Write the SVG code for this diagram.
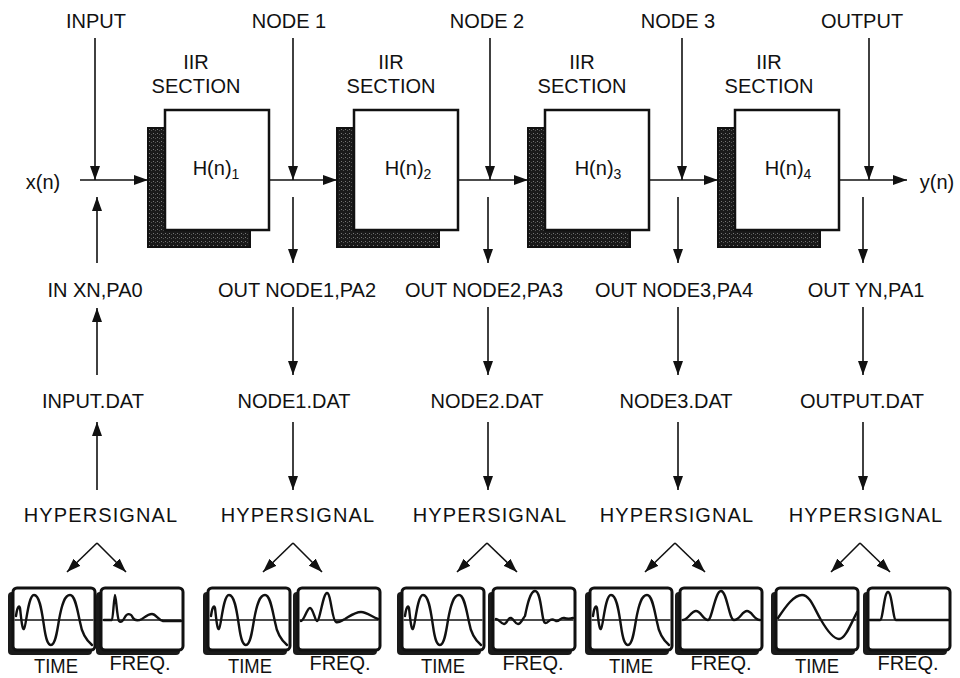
<svg xmlns="http://www.w3.org/2000/svg" width="960" height="678" viewBox="0 0 960 678">
<style>
text{font-family:"Liberation Sans",Arial,Helvetica,sans-serif;font-size:20px;fill:#111;text-anchor:middle}
.sub{font-size:14px}
.hs{letter-spacing:1.1px}
.ln{stroke:#111;stroke-width:1.6;fill:none}
.box{fill:#fff;stroke:#111;stroke-width:2.5}
.shd{fill:url(#stip);stroke:#111;stroke-width:2}
.wv{fill:none;stroke:#111;stroke-width:2.4;stroke-linejoin:round;stroke-linecap:round}
.ax{stroke:#111;stroke-width:1.4}
</style>
<defs>
<pattern id="stip" width="4" height="4" patternUnits="userSpaceOnUse">
<rect width="4" height="4" fill="#1a1a1a"/>
<rect x="1" y="1" width="1" height="1" fill="#777"/>
<rect x="3" y="2" width="1" height="1" fill="#555"/>
</pattern>
<marker id="ah" viewBox="0 0 14 10" refX="14" refY="5" markerWidth="14" markerHeight="10" markerUnits="userSpaceOnUse" orient="auto">
<path d="M0,0 L14,5 L0,10 Z" fill="#111"/>
</marker>
<g id="mon">
<rect x="-5" y="4" width="84" height="63" rx="4" fill="#1a1a1a"/>
<rect x="0" y="0" width="82" height="62" rx="4" fill="#fff" stroke="#111" stroke-width="3"/>
<line class="ax" x1="1.5" y1="32" x2="80.5" y2="32"/>
</g>
<path id="tw" class="wv" d="M3,28 C4,20 6,16 7,20 C8,28 9,42 11,41 C13,40 15,7 21,7 C27,7 29,25 31,38 C33,52 35,57 38,57 C42,57 44,45 46,32 C49,15 52,7 57,7 C62,7 64,20 67,34 C69,46 73,52 79,57"/>
</defs>

<g id="connectors">
<path class="ln" d="M80,180 H148" marker-end="url(#ah)"/>
<path class="ln" d="M269,180 H337" marker-end="url(#ah)"/>
<path class="ln" d="M458,180 H528" marker-end="url(#ah)"/>
<path class="ln" d="M649,180 H718" marker-end="url(#ah)"/>
<path class="ln" d="M839,180 H907" marker-end="url(#ah)"/>
<path class="ln" d="M95,38 V180" marker-end="url(#ah)"/>
<path class="ln" d="M293,38 V180" marker-end="url(#ah)"/>
<path class="ln" d="M490,38 V180" marker-end="url(#ah)"/>
<path class="ln" d="M682,38 V180" marker-end="url(#ah)"/>
<path class="ln" d="M869,38 V180" marker-end="url(#ah)"/>
<path class="ln" d="M97,263 V197" marker-end="url(#ah)"/>
<path class="ln" d="M97,375 V308" marker-end="url(#ah)"/>
<path class="ln" d="M97,490 V422" marker-end="url(#ah)"/>
<path class="ln" d="M293,197 V263" marker-end="url(#ah)"/>
<path class="ln" d="M293,307 V375" marker-end="url(#ah)"/>
<path class="ln" d="M293,422 V490" marker-end="url(#ah)"/>
<path class="ln" d="M488,197 V263" marker-end="url(#ah)"/>
<path class="ln" d="M488,307 V375" marker-end="url(#ah)"/>
<path class="ln" d="M488,422 V490" marker-end="url(#ah)"/>
<path class="ln" d="M678,197 V263" marker-end="url(#ah)"/>
<path class="ln" d="M678,307 V375" marker-end="url(#ah)"/>
<path class="ln" d="M678,422 V490" marker-end="url(#ah)"/>
<path class="ln" d="M863,197 V263" marker-end="url(#ah)"/>
<path class="ln" d="M863,307 V375" marker-end="url(#ah)"/>
<path class="ln" d="M863,422 V490" marker-end="url(#ah)"/>
<path class="ln" d="M97,543 L67,572" marker-end="url(#ah)"/>
<path class="ln" d="M97,543 L126,572" marker-end="url(#ah)"/>
<path class="ln" d="M293,543 L263,572" marker-end="url(#ah)"/>
<path class="ln" d="M293,543 L322,572" marker-end="url(#ah)"/>
<path class="ln" d="M487,543 L457,572" marker-end="url(#ah)"/>
<path class="ln" d="M487,543 L517,572" marker-end="url(#ah)"/>
<path class="ln" d="M675,543 L645,572" marker-end="url(#ah)"/>
<path class="ln" d="M675,543 L705,572" marker-end="url(#ah)"/>
<path class="ln" d="M860,543 L831,572" marker-end="url(#ah)"/>
<path class="ln" d="M860,543 L890,572" marker-end="url(#ah)"/>
</g>

<g id="labels-top">
<text x="96" y="28">INPUT</text>
<text x="289" y="28">NODE 1</text>
<text x="487" y="28">NODE 2</text>
<text x="678" y="28">NODE 3</text>
<text x="862" y="28">OUTPUT</text>
<text x="43" y="189">x(n)</text>
<text x="937" y="189">y(n)</text>
</g>

<g id="iir1">
<text x="196" y="69">IIR</text>
<text x="196" y="93">SECTION</text>
<rect class="shd" x="148" y="128" width="102" height="119"/>
<rect class="box" x="165" y="110" width="104" height="120"/>
<text x="216" y="175">H(n)<tspan class="sub" dy="4">1</tspan></text>
</g>
<g id="iir2">
<text x="391" y="69">IIR</text>
<text x="391" y="93">SECTION</text>
<rect class="shd" x="337" y="128" width="102" height="119"/>
<rect class="box" x="354" y="110" width="104" height="120"/>
<text x="408" y="175">H(n)<tspan class="sub" dy="4">2</tspan></text>
</g>
<g id="iir3">
<text x="582" y="69">IIR</text>
<text x="582" y="93">SECTION</text>
<rect class="shd" x="528" y="128" width="102" height="119"/>
<rect class="box" x="545" y="110" width="104" height="120"/>
<text x="598" y="175">H(n)<tspan class="sub" dy="4">3</tspan></text>
</g>
<g id="iir4">
<text x="769" y="69">IIR</text>
<text x="769" y="93">SECTION</text>
<rect class="shd" x="718" y="128" width="102" height="119"/>
<rect class="box" x="735" y="110" width="104" height="120"/>
<text x="788" y="175">H(n)<tspan class="sub" dy="4">4</tspan></text>
</g>

<g id="col1">
<text x="95" y="297">IN XN,PA0</text>
<text x="93" y="408">INPUT.DAT</text>
<text class="hs" x="101" y="522">HYPERSIGNAL</text>
<g transform="translate(13,588)"><use href="#mon"/><use href="#tw"/></g>
<g transform="translate(101,588)"><use href="#mon"/><path class="wv" d="M3,32 L11,32 C12,32 13,7 14,7 C15,7 16,30 18,33 C20,35 22,33 24,29 C26,25 30,25 32,30 C34,33 37,33 41,31 C44,29 47,26 51,26 C55,26 57,32 62,33 L80,33" /></g>
<text x="56" y="673" textLength="44" lengthAdjust="spacingAndGlyphs">TIME</text>
<text x="140" y="670">FREQ.</text>
</g>

<g id="col2">
<text x="297" y="297">OUT NODE1,PA2</text>
<text x="294" y="408">NODE1.DAT</text>
<text class="hs" x="298" y="522">HYPERSIGNAL</text>
<g transform="translate(208,588)"><use href="#mon"/><use href="#tw"/></g>
<g transform="translate(298,588)"><use href="#mon"/><path class="wv" d="M3,33 C6,33 9,20 12,20 C15,20 17,33 19,33 C22,33 25,5 29,5 C33,5 34,33 38,34 C41,35 43,33 47,31 C52,28 57,24 63,24 C69,24 74,29 80,31"/></g>
<text x="250" y="673" textLength="44" lengthAdjust="spacingAndGlyphs">TIME</text>
<text x="340" y="670">FREQ.</text>
</g>

<g id="col3">
<text x="484" y="297">OUT NODE2,PA3</text>
<text x="487" y="408">NODE2.DAT</text>
<text class="hs" x="490" y="522">HYPERSIGNAL</text>
<g transform="translate(402,588)"><use href="#mon"/><use href="#tw"/></g>
<g transform="translate(493,588)"><use href="#mon"/><path class="wv" d="M3,31 C6,31 8,36 11,36 C14,36 15,29 18,30 C21,31 22,36 25,36 C28,36 30,30 32,28 C34,18 37,3 42,3 C47,3 48,20 50,30 C51,36 53,36 56,33 C59,30 61,32 63,33 C66,34 68,29 71,30 C74,31 77,31 80,30"/></g>
<text x="443" y="673" textLength="44" lengthAdjust="spacingAndGlyphs">TIME</text>
<text x="533" y="670">FREQ.</text>
</g>

<g id="col4">
<text x="674" y="297">OUT NODE3,PA4</text>
<text x="676" y="408">NODE3.DAT</text>
<text class="hs" x="677" y="522">HYPERSIGNAL</text>
<g transform="translate(590,588)"><use href="#mon"/><use href="#tw"/></g>
<g transform="translate(680,588)"><use href="#mon"/><path class="wv" d="M3,32 C8,32 11,23 16,23 C21,23 23,32 28,32 C32,32 35,3 41,3 C47,3 49,32 54,32 C60,32 62,23 67,23 C72,23 74,32 80,32"/></g>
<text x="631" y="673" textLength="44" lengthAdjust="spacingAndGlyphs">TIME</text>
<text x="721" y="670">FREQ.</text>
</g>

<g id="col5">
<text x="866" y="297">OUT YN,PA1</text>
<text x="862" y="408">OUTPUT.DAT</text>
<text class="hs" x="866" y="522">HYPERSIGNAL</text>
<g transform="translate(776,588)"><use href="#mon"/><path class="wv" d="M2,30 C10,18 18,7 26,7 C34,7 38,20 45,32 C52,44 58,51 63,51 C69,51 74,38 81,24"/></g>
<g transform="translate(868,588)"><use href="#mon"/><path class="wv" d="M2,32 L12,32 C15,32 16,4 20,4 C24,4 25,32 28,32 L81,32"/></g>
<text x="817" y="673" textLength="44" lengthAdjust="spacingAndGlyphs">TIME</text>
<text x="908" y="670">FREQ.</text>
</g>
</svg>
